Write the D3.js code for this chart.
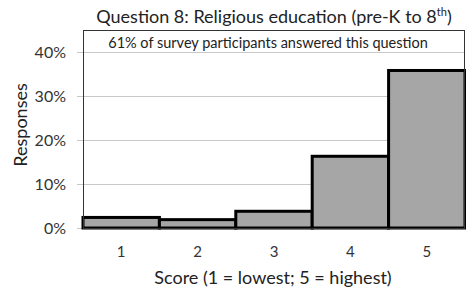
<!DOCTYPE html>
<html><head><meta charset="utf-8">
<script src="https://cdn.jsdelivr.net/npm/d3@7"></script>
<style>body{margin:0;background:#fff;} svg{display:block;font-family:Lato,"Open Sans",sans-serif;}</style>
</head><body>
<script>
const categories = ["1","2","3","4","5"];
const values = [0.024, 0.019, 0.038, 0.163, 0.358];
const yTicks = [0, 0.1, 0.2, 0.3, 0.4];
const title = "Question 8: Religious education (pre-K to 8";
const subtitle = "61% of survey participants answered this question";
const xTitle = "Score (1 = lowest; 5 = highest)";
const yTitle = "Responses";

const W = 466, H = 291;
const m = {left: 83, right: 1, top: 30, bottom: 63};
const svg = d3.select("body").append("svg").attr("width", W).attr("height", H);
const x = d3.scaleBand().domain(categories).range([m.left, W - m.right]).padding(0);
const y = d3.scaleLinear().domain([0, 0.45]).range([H - m.bottom, m.top]);

// gridlines
svg.append("g").selectAll("line").data(yTicks).join("line")
  .attr("x1", m.left - 6).attr("x2", W - m.right)
  .attr("y1", d => Math.round(y(d)) + 0.5).attr("y2", d => Math.round(y(d)) + 0.5)
  .attr("stroke", "#c8c8c8").attr("stroke-width", 1);

// subtitle
svg.append("text").attr("x", 268).attr("y", 48)
  .attr("text-anchor", "middle").attr("font-size", 14.5).attr("fill", "#222").text(subtitle);

// bars
svg.append("g").selectAll("rect").data(values).join("rect")
  .attr("x", (d, i) => x(categories[i]))
  .attr("width", x.bandwidth())
  .attr("y", d => y(d))
  .attr("height", d => y(0) - y(d))
  .attr("fill", "#a6a6a6").attr("stroke", "#000").attr("stroke-width", 3);

// plot border
svg.append("rect").attr("x", m.left + 0.5).attr("y", m.top + 0.5)
  .attr("width", W - m.right - m.left - 1).attr("height", y(0) - m.top)
  .attr("fill", "none").attr("stroke", "#333").attr("stroke-width", 1);

// y axis labels
const yAxis = d3.axisLeft(y).tickValues(yTicks).tickFormat(d3.format(".0%")).tickSize(0).tickPadding(17);
const gy = svg.append("g").attr("transform", `translate(${m.left},0)`).call(yAxis);
gy.select(".domain").remove();
gy.selectAll("text").attr("font-size", 16).attr("fill", "#333").attr("font-family", "Lato,sans-serif");

// x axis labels
const xAxis = d3.axisBottom(x).tickSize(0).tickPadding(18);
const gx = svg.append("g").attr("transform", `translate(0,${y(0)})`).call(xAxis);
gx.select(".domain").remove();
gx.selectAll("text").attr("font-size", 15).attr("fill", "#333").attr("font-family", "Lato,sans-serif");

// title
const t = svg.append("text").attr("x", 274).attr("y", 23).attr("text-anchor", "middle")
  .attr("font-size", 18).attr("fill", "#222");
t.append("tspan").text(title);
t.append("tspan").attr("font-size", 11).attr("dy", -7).text("th");
t.append("tspan").attr("dy", 7).text(")");

// axis titles
svg.append("text").attr("x", 273).attr("y", 284).attr("text-anchor", "middle")
  .attr("font-size", 18).attr("fill", "#222").text(xTitle);
svg.append("text").attr("transform", "translate(27,125) rotate(-90)").attr("text-anchor", "middle")
  .attr("font-size", 18).attr("fill", "#222").text(yTitle);
</script>
</body></html>
